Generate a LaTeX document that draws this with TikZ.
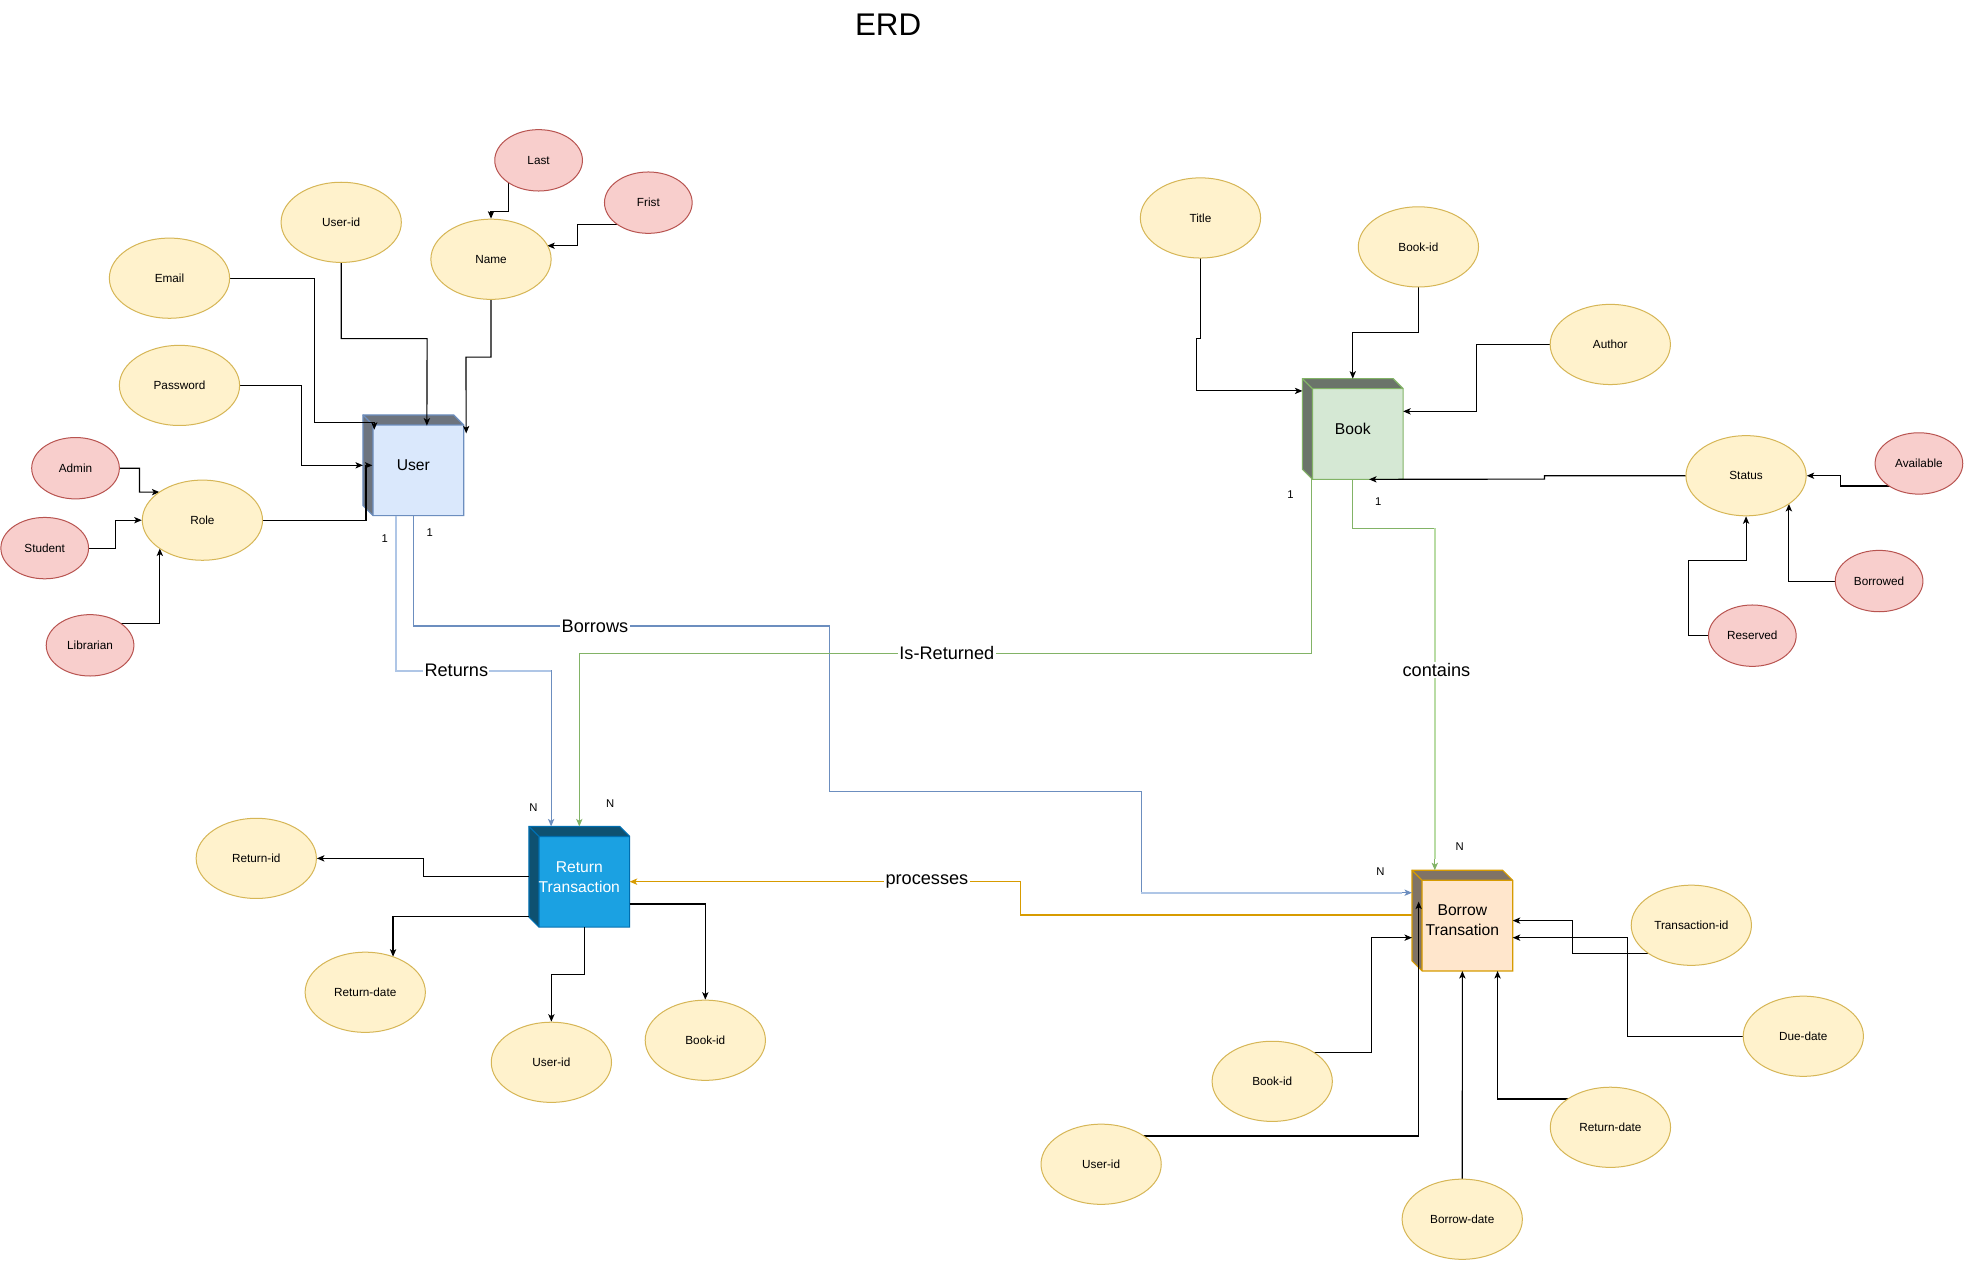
\documentclass[tikz,border=0pt]{standalone}
\usepackage{fontspec}
\setmainfont{Liberation Sans}
\usetikzlibrary{shapes.geometric,arrows.meta,calc}
\pgfdeclarelayer{bg}\pgfdeclarelayer{cubes}\pgfdeclarelayer{edges}
\pgfsetlayers{bg,cubes,edges,main}

\definecolor{attrF}{HTML}{FFF2CC}\definecolor{attrD}{HTML}{D6B656}
\definecolor{valF}{HTML}{F8CECC}\definecolor{valD}{HTML}{B85450}
\definecolor{userF}{HTML}{DAE8FC}\definecolor{userD}{HTML}{6C8EBF}
\definecolor{bookF}{HTML}{D5E8D4}\definecolor{bookD}{HTML}{82B366}
\definecolor{retF}{HTML}{1BA1E2}\definecolor{retD}{HTML}{006EAF}
\definecolor{borF}{HTML}{FFE6CC}\definecolor{borD}{HTML}{D79B00}
\definecolor{relB}{HTML}{6C8EBF}\definecolor{relBl}{HTML}{AFC6E6}
\definecolor{relG}{HTML}{82B366}\definecolor{relGl}{HTML}{B9DCA5}
\definecolor{relO}{HTML}{D79B00}

\tikzset{
 attr/.style={ellipse, draw=attrD, fill=attrF, line width=0.8pt, minimum width=96pt, minimum height=64pt, inner sep=0pt, font=\fontsize{9.4}{11}\selectfont},
 val/.style={ellipse, draw=valD, fill=valF, line width=0.8pt, minimum width=70pt, minimum height=49pt, inner sep=0pt, font=\fontsize{9.4}{11}\selectfont},
 entbox/.style={rectangle, minimum width=80pt, minimum height=80pt, inner sep=0pt, align=center, font=\fontsize{12.5}{16}\selectfont},
 conn/.style={line width=0.9pt, -{Stealth[length=6pt,width=5pt,inset=1.5pt]}},
 elabel/.style={fill=white, inner sep=1pt, font=\fontsize{14.5}{17}\selectfont},
 card/.style={inner sep=0pt, font=\fontsize{9}{10}\selectfont},
}

\newcommand\erdcube[3]{%
 \begin{pgfonlayer}{cubes}
 \fill[#2] ($(#1.north west)+(8,8)$) rectangle (#1.south east);
 \fill[#2!50!black] (#1.north west) -- ($(#1.north east)+(-8,0)$) -- ($(#1.north east)+(0,8)$) -- ($(#1.north west)+(8,8)$) -- cycle;
 \fill[#2!50!black] (#1.north west) -- ($(#1.north west)+(8,8)$) -- ($(#1.south west)+(8,0)$) -- ($(#1.south west)+(0,-8)$) -- cycle;
 \draw[#3, line width=0.9pt, line join=miter] (#1.north west) -- ($(#1.north east)+(-8,0)$) -- ($(#1.north east)+(0,8)$) -- (#1.south east) -- ($(#1.south west)+(8,0)$) -- ($(#1.south west)+(0,-8)$) -- cycle;
 \draw[#3, line width=0.9pt] ($(#1.north west)+(8,8)$) -- ($(#1.north east)+(0,8)$) ($(#1.north west)+(8,8)$) -- ($(#1.south west)+(8,0)$) ($(#1.north west)+(8,8)$) -- (#1.north west);
 \end{pgfonlayer}}

\begin{document}
\begin{tikzpicture}[x=1pt,y=-1pt]
\begin{pgfonlayer}{bg}
\fill[white] (0,0) rectangle (1568,1006);
\end{pgfonlayer}
\useasboundingbox (0,0) rectangle (1568,1006);

\node[font=\fontsize{25}{30}\selectfont] (erdtitle) at (709,20) {ERD};

% entities
\node[entbox] (user) at (330,371.5) {User};
\node[entbox] (book) at (1080,342.5) {Book};
\node[entbox, text=white] (ret) at (462.5,700) {Return\\Transaction};
\node[entbox] (bor) at (1167.5,735) {Borrow\\Transation};
\erdcube{user}{userF}{userD}
\erdcube{book}{bookF}{bookD}
\erdcube{ret}{retF}{retD}
\erdcube{bor}{borF}{borD}

% user attributes
\node[val] (last) at (430,128) {Last};
\node[val] (frist) at (517.6,161.8) {Frist};
\node[attr] (name) at (392,207) {Name};
\node[attr] (uid) at (272.4,177.5) {User-id};
\node[attr] (email) at (135.3,222.1) {Email};
\node[attr] (pw) at (143.3,307.7) {Password};
\node[val] (admin) at (60.3,373.8) {Admin};
\node[attr] (role) at (161.6,415.3) {Role};
\node[val] (student) at (35.7,437.6) {Student};
\node[val] (lib) at (71.9,515.2) {Librarian};

% book attributes
\node[attr] (btitle) at (958.4,174) {Title};
\node[attr] (bid) at (1132.4,197.1) {Book-id};
\node[attr] (author) at (1285.6,275) {Author};
\node[attr] (status) at (1394,379.8) {Status};
\node[val] (avail) at (1532,370) {Available};
\node[val] (borrowed) at (1500.2,463.9) {Borrowed};
\node[val] (reserved) at (1399,507.5) {Reserved};

% return attributes
\node[attr] (retid) at (204.6,685.3) {Return-id};
\node[attr] (rdate) at (291.6,792.2) {Return-date};
\node[attr] (ruid) at (440.2,848.1) {User-id};
\node[attr] (rbid) at (563.1,830.5) {Book-id};

% borrow attributes
\node[attr] (tid) at (1350.3,738.7) {Transaction-id};
\node[attr] (due) at (1439.7,827.3) {Due-date};
\node[attr] (brdate) at (1285.7,900) {Return-date};
\node[attr] (bdate) at (1167.4,973.4) {Borrow-date};
\node[attr] (bbid) at (1015.7,863.3) {Book-id};
\node[attr] (buid) at (879.1,929.5) {User-id};

\begin{pgfonlayer}{edges}
% user
\draw[conn] ($(last.center)+(-24.2,0)$) |- (392,169) -- (name.north);
\draw[conn] ($(frist.center)+(0,17.3)$) -| (461.1,196.2) -- ($(name.center)+(44.9,-10.8)$);
\draw[conn] (email.center) -| (251.1,337.3) -| ($(user.north west)+(9,11.8)$);
\draw[conn] (uid.center) |- (341,270.3) -- ($(user.north west)+(51,8.5)$);
\draw[conn] (name.center) |- (372,285.1) -- ($(user.north east)+(2,14.7)$);
\draw[conn] (pw.center) -| (240.8,371.5) -- (user.west);
\draw[conn] (role.center) -| (292.2,371.5) -- ($(user.west)+(7.5,0)$);
\draw[conn] (admin.center) -| (111.4,392.9) -- ($(role.center)+(-34.3,-22.4)$);
\draw[conn] (student.center) -| (92,415.3) -- (role.west);
\draw[conn] ($(lib.center)+(0,-17.7)$) -| ($(role.center)+(-34,22.6)$);
% book
\draw[conn] (btitle.center) |- (955.2,270.2) |- ($(book.north west)+(0,9.8)$);
\draw[conn] (bid.center) |- (1080,265.7) -- (book.north);
\draw[conn] (author.center) -| (1178.6,328.4) -- ($(book.east)+(0,-14.1)$);
\draw[conn] (status.center) -| (1233.1,382.5) -- ($(book.south)+(13,0)$);
\draw[conn] ($(avail.center)+(0,18)$) -| (1469.5,379.8) -- (status.east);
\draw[conn] (borrowed.center) -| ($(status.center)+(34.2,22.5)$);
\draw[conn] (reserved.center) -| (1347.9,447.3) -| (status.south);
% return transaction
\draw[conn] (ret.west) -| (337.9,685.3) -- (retid.east);
\draw[conn] ($(ret.west)+(0,31.5)$) -| ($(rdate.center)+(22.2,-28.4)$);
\draw[conn] ($(ret.south)+(4.1,0)$) |- (440.2,777.8) -- (ruid.north);
\draw[conn] ($(ret.east)+(0,21.7)$) -| (rbid.north);
% borrow transaction
\draw[conn] ($(tid.center)+(0,22.7)$) -| (1255.2,735) -- (bor.east);
\draw[conn] (due.center) -| (1299.6,748.6) -- ($(bor.east)+(0,13.6)$);
\draw[conn] ($(brdate.center)+(0,-22.6)$) -| ($(bor.south)+(28.1,0)$);
\draw[conn] (bdate.center) -- (bor.south);
\draw[conn] ($(bbid.center)+(0,-22.9)$) -| (1095.2,748.6) -- ($(bor.west)+(0,13.6)$);
\draw[conn] ($(buid.center)+(0,-22.6)$) -| ($(bor.west)+(5.3,-15.2)$);
% relationships
\coordinate (bbend) at (911,712.7);
\draw[conn, draw=relB] (user.south) |- (662.4,499.8) |- (911,631.7) |- ($(bor.west)+(0,-22.3)$);
\draw[relBl, line width=1.6pt] (bbend) -- ($(bor.west)+(-8,-22.3)$);
\coordinate (rbend) at (440,535.4);
\draw[conn, draw=relB] ($(user.south)+(-14,0)$) |- (rbend) -- ($(ret.north)+(-22.5,0)$);
\draw[relBl, line width=1.6pt] ($(user.south)+(-14,0)$) |- (rbend);
\draw[conn, draw=relG] ($(book.south west)+(7.5,0)$) |- (462.5,521.6) -- (ret.north);
\coordinate (cbend) at (1145.5,421.9);
\draw[conn, draw=relG] (book.south) |- (cbend) -- ($(bor.north)+(-22,0)$);
\draw[relGl, line width=1.6pt] (cbend) -- ($(bor.north)+(-22,-9)$);
\draw[conn, draw=relO] ($(bor.west)+(0,-4.5)$) -| (814.5,703.9) -- ($(ret.east)+(0,3.9)$);
\end{pgfonlayer}

% relationship labels
\node[elabel] (lborrows) at (475,499.8) {Borrows};
\node[elabel] (lreturns) at (364.3,535.4) {Returns};
\node[elabel] (lisret) at (755.9,521.6) {Is-Returned};
\node[elabel] (lcontains) at (1146.8,535.2) {contains};
\node[elabel] (lproc) at (740,703.9) {processes};

% cardinalities
\node[card] (c1) at (307.2,430) {1};
\node[card] (c2) at (343.1,425.4) {1};
\node[card] (c3) at (1030.3,395.2) {1};
\node[card] (c4) at (1100.4,400.8) {1};
\node[card] (c5) at (425.9,644.5) {N};
\node[card] (c6) at (487.2,641.3) {N};
\node[card] (c7) at (1102.1,695.9) {N};
\node[card] (c8) at (1165.3,676) {N};
\end{tikzpicture}
\end{document}
